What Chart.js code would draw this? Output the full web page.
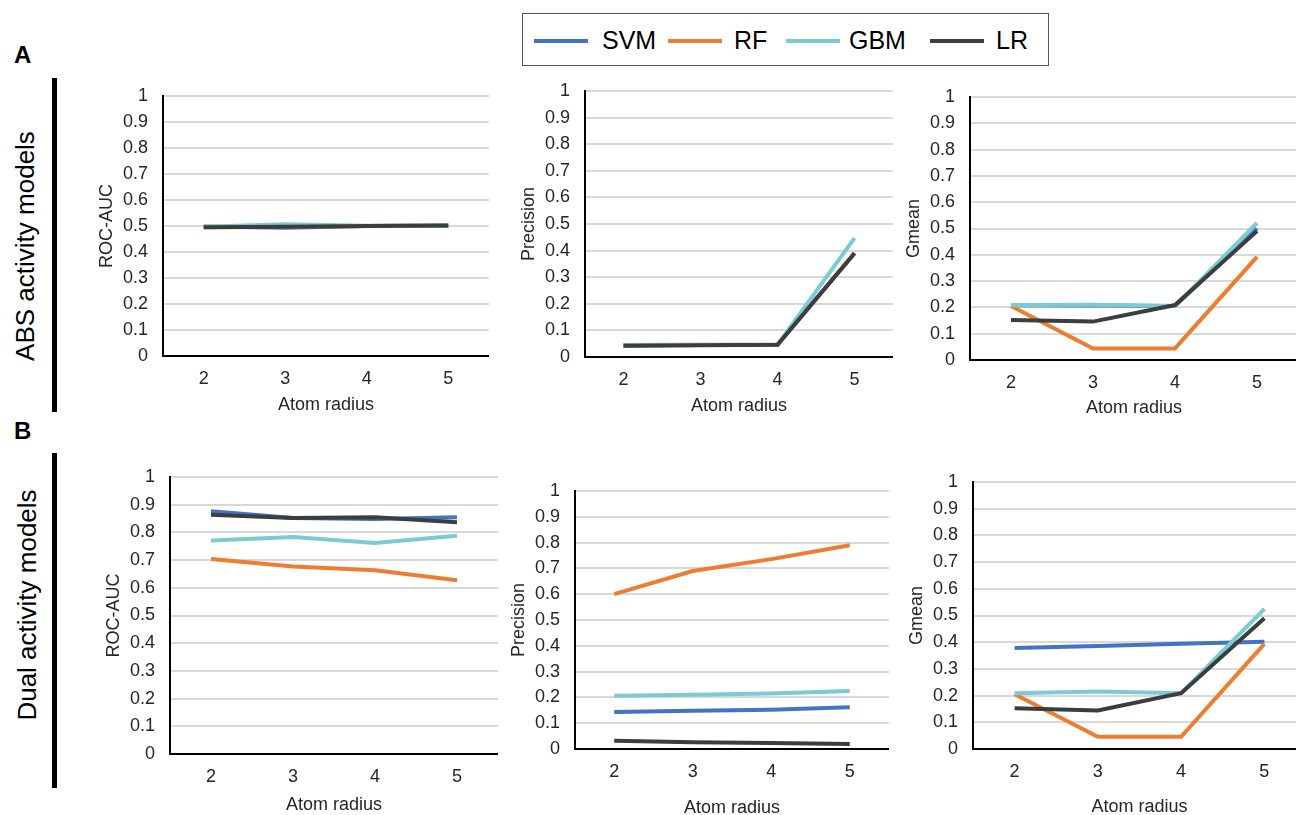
<!DOCTYPE html>
<html>
<head>
<meta charset="utf-8">
<script src="https://cdn.jsdelivr.net/npm/chart.js@4.4.1/dist/chart.umd.min.js"></script>
<style>
  html, body { margin: 0; padding: 0; background: #fff; overflow: hidden; }
  body { width: 1296px; height: 815px; position: relative; font-family: "Liberation Sans", Arial, sans-serif; }
  canvas { position: absolute; }
  .panel-letter { position: absolute; left: 14px; font-size: 24px; font-weight: bold; line-height: 1; color: #000; }
  .row-label { position: absolute; font-size: 26px; line-height: 1; white-space: nowrap; color: #000;
               transform: translate(-50%, -50%) rotate(-90deg); }
  .row-bar { position: absolute; left: 52px; width: 5px; background: #000; }
  #legend { position: absolute; left: 522px; top: 13px; width: 525px; height: 51px; border: 1px solid #555; }
  #legend .sw { position: absolute; top: 25px; width: 54px; height: 4px; }
  #legend .lbl { position: absolute; top: 14px; font-size: 25px; line-height: 1; color: #000; }
</style>
</head>
<body>
<div class="panel-letter" style="top:43px">A</div>
<div class="panel-letter" style="top:419px">B</div>
<div class="row-bar" style="top:78px;height:334px"></div>
<div class="row-bar" style="top:453px;height:335px"></div>
<div class="row-label" style="left:25px;top:246px">ABS activity models</div>
<div class="row-label" style="left:27px;top:605px">Dual activity models</div>
<div id="legend"></div>
<script>
const radii = ["2", "3", "4", "5"];
const models = ["SVM", "RF", "GBM", "LR"];
const modelColors = ["#4472c4", "#ed7d31", "#7ccbd2", "#3a3e3e"];
const yTicks = [0, 0.1, 0.2, 0.3, 0.4, 0.5, 0.6, 0.7, 0.8, 0.9, 1];

// A: ABS activity models
const absRocSvm = [0.498, 0.493, 0.5, 0.501];
const absRocRf = [0.495, 0.497, 0.5, 0.502];
const absRocGbm = [0.497, 0.507, 0.501, 0.501];
const absRocLr = [0.495, 0.497, 0.5, 0.502];

const absPrecSvm = [0.043, 0.045, 0.046, 0.39];
const absPrecRf = [0.045, 0.046, 0.046, 0.39];
const absPrecGbm = [0.044, 0.045, 0.046, 0.447];
const absPrecLr = [0.042, 0.044, 0.046, 0.39];

const absGmeanSvm = [0.208, 0.207, 0.205, 0.5];
const absGmeanRf = [0.205, 0.044, 0.044, 0.392];
const absGmeanGbm = [0.209, 0.21, 0.205, 0.521];
const absGmeanLr = [0.152, 0.146, 0.209, 0.49];

// B: Dual activity models
const dualRocSvm = [0.876, 0.852, 0.848, 0.855];
const dualRocRf = [0.704, 0.677, 0.663, 0.627];
const dualRocGbm = [0.771, 0.783, 0.762, 0.788];
const dualRocLr = [0.864, 0.852, 0.855, 0.837];

const dualPrecSvm = [0.143, 0.148, 0.152, 0.162];
const dualPrecRf = [0.6, 0.69, 0.736, 0.79];
const dualPrecGbm = [0.206, 0.21, 0.215, 0.225];
const dualPrecLr = [0.032, 0.026, 0.023, 0.019];

const dualGmeanSvm = [0.378, 0.386, 0.394, 0.402];
const dualGmeanRf = [0.205, 0.046, 0.046, 0.394];
const dualGmeanGbm = [0.209, 0.215, 0.209, 0.525];
const dualGmeanLr = [0.153, 0.144, 0.209, 0.49];

// plot box of each panel: y axis x, y of 1, y of 0, right edge, x title offset
const panels = [
  { id: "absRoc", yTitle: "ROC-AUC", series: [absRocSvm, absRocRf, absRocGbm, absRocLr], ax: 163, top: 96, zero: 356, right: 489, titleOff: 49 },
  { id: "absPrec", yTitle: "Precision", series: [absPrecSvm, absPrecRf, absPrecGbm, absPrecLr], ax: 585, top: 91, zero: 357, right: 893, titleOff: 49 },
  { id: "absGmean", yTitle: "Gmean", series: [absGmeanSvm, absGmeanRf, absGmeanGbm, absGmeanLr], ax: 970, top: 97, zero: 360, right: 1298, titleOff: 48 },
  { id: "dualRoc", yTitle: "ROC-AUC", series: [dualRocSvm, dualRocRf, dualRocGbm, dualRocLr], ax: 170, top: 477, zero: 754, right: 498, titleOff: 51 },
  { id: "dualPrec", yTitle: "Precision", series: [dualPrecSvm, dualPrecRf, dualPrecGbm, dualPrecLr], ax: 575, top: 491, zero: 749, right: 889, titleOff: 59 },
  { id: "dualGmean", yTitle: "Gmean", series: [dualGmeanSvm, dualGmeanRf, dualGmeanGbm, dualGmeanLr], ax: 973, top: 482, zero: 749, right: 1306, titleOff: 58 },
];

const fontFamily = "'Liberation Sans', Arial, sans-serif";
const textColor = "#262626";
const fontSize = 18;
const yAxisW = 70;
const padTop = 14;

// shared legend
let legendHtml = "";
const swLeft = [11, 145, 263, 407];
const lblLeft = [79, 211, 326, 473];
models.forEach((m, i) => {
  legendHtml += `<div class="sw" style="left:${swLeft[i]}px;background:${modelColors[i]}"></div>`;
  legendHtml += `<div class="lbl" style="left:${lblLeft[i]}px">${m}</div>`;
});
document.getElementById("legend").innerHTML = legendHtml;

panels.forEach((p) => {
  const xAxisH = Math.round(p.titleOff + 11);
  const canvas = document.createElement("canvas");
  const w = yAxisW + (p.right - p.ax);
  const h = padTop + (p.zero - p.top) + xAxisH;
  canvas.width = w;
  canvas.height = h;
  canvas.style.left = p.ax - yAxisW + "px";
  canvas.style.top = p.top - padTop + "px";
  canvas.style.width = w + "px";
  canvas.style.height = h + "px";
  document.body.appendChild(canvas);

  new Chart(canvas, {
    type: "line",
    data: {
      labels: radii,
      datasets: models.map((m, i) => ({
        label: m,
        data: p.series[i],
        borderColor: modelColors[i],
        backgroundColor: modelColors[i],
        borderWidth: 4,
        pointRadius: 0,
        tension: 0,
        order: models.length - i, // LR drawn last, on top
      })),
    },
    options: {
      responsive: false,
      animation: false,
      devicePixelRatio: 1,
      layout: { padding: { top: padTop, left: 0, right: 0, bottom: 0 } },
      plugins: { legend: { display: false }, tooltip: { enabled: false } },
      scales: {
        x: {
          offset: true,
          grid: { display: false, drawTicks: false },
          border: { display: true, color: "#000", width: 2 },
          ticks: { color: textColor, padding: 12, maxRotation: 0, font: { family: fontFamily, size: fontSize } },
          title: { display: true, text: "Atom radius", color: textColor, padding: 0, font: { family: fontFamily, size: fontSize } },
          afterFit: (scale) => {
            scale.height = xAxisH;
            scale.paddingLeft = 0;
            scale.paddingRight = 0;
          },
        },
        y: {
          min: 0,
          max: 1,
          afterBuildTicks: (scale) => { scale.ticks = yTicks.map((v) => ({ value: v })); },
          grid: {
            drawTicks: false,
            lineWidth: 2,
            color: (ctx) => (ctx.tick && ctx.tick.value === 0 ? "rgba(0,0,0,0)" : "#d9d9d9"),
          },
          border: { display: true, color: "#000", width: 2 },
          ticks: {
            color: textColor,
            padding: 15,
            autoSkip: false,
            font: { family: fontFamily, size: fontSize },
            callback: (v) => String(+v.toFixed(1)),
          },
          title: { display: true, text: p.yTitle, color: textColor, padding: { top: 3, bottom: 0 }, font: { family: fontFamily, size: fontSize } },
          afterFit: (scale) => {
            scale.width = yAxisW;
            // keep the plot box where it was placed, label overflow goes into the padding
            scale.paddingTop = 0;
            scale.paddingBottom = 0;
          },
        },
      },
    },
  });
});
</script>
</body>
</html>
